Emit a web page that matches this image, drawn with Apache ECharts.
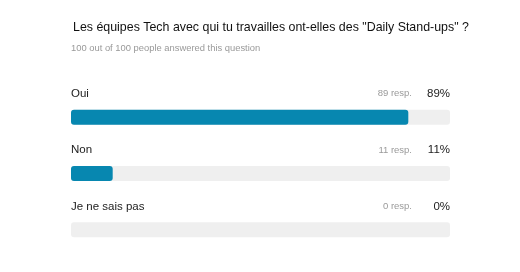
<!DOCTYPE html>
<html><head><meta charset="utf-8">
<script src="https://cdn.jsdelivr.net/npm/echarts@6/dist/echarts.min.js"></script>
<style>html,body{margin:0;padding:0;background:#fff}#c{width:520px;height:272px}</style>
</head><body><div id="c"></div>
<script>
const categories = ['Oui', 'Non', 'Je ne sais pas'];
const percents = [89, 11, 0];
const responses = [89, 11, 0];
const titleText = 'Les équipes Tech avec qui tu travailles ont-elles des "Daily Stand-ups" ?';
const subtitleText = '100 out of 100 people answered this question';

const FONT = '"Liberation Sans", Arial, Helvetica, sans-serif';
const chart = echarts.init(document.getElementById('c'), null, {renderer: 'canvas'});
chart.setOption({
  animation: false,
  textStyle: {fontFamily: FONT},
  title: [
    {text: titleText, left: 73, top: 22, padding: 0, textStyle: {fontSize: 12.4, fontWeight: 'normal', color: '#111', fontFamily: FONT}},
    {text: subtitleText, left: 71, top: 43.5, padding: 0, textStyle: {fontSize: 9.4, fontWeight: 'normal', color: '#999', fontFamily: FONT}}
  ],
  grid: {left: 71, right: 70, top: 89, bottom: 14},
  xAxis: {type: 'value', min: 0, max: 100, show: false},
  yAxis: {type: 'category', data: categories, inverse: true, show: false},
  series: [
    {
      type: 'bar', barWidth: 15, silent: true,
      data: categories.map(() => 100),
      itemStyle: {color: '#efefef', borderRadius: 3},
      label: {
        show: true, position: [0, -16], align: 'left', verticalAlign: 'middle',
        formatter: p => p.name, fontSize: 11.5, color: '#222', fontFamily: FONT
      },
      z: 1
    },
    {
      type: 'bar', barWidth: 15, barGap: '-100%', silent: true,
      data: categories.map(() => 100),
      itemStyle: {color: 'rgba(0,0,0,0)'},
      label: {
        show: true, position: ['100%', -16], align: 'right', verticalAlign: 'middle',
        formatter: p => '{a|' + responses[p.dataIndex] + ' resp.}{b|' + percents[p.dataIndex] + '%}',
        rich: {
          a: {fontSize: 9.5, color: '#9a9a9a', fontFamily: FONT},
          b: {fontSize: 11.5, color: '#222', width: 38, align: 'right', fontFamily: FONT}
        }
      },
      z: 2
    },
    {
      type: 'bar', barWidth: 15, barGap: '-100%', silent: true,
      data: percents,
      itemStyle: {color: '#0787b0', borderRadius: 3},
      z: 3
    }
  ]
});
</script></body></html>
